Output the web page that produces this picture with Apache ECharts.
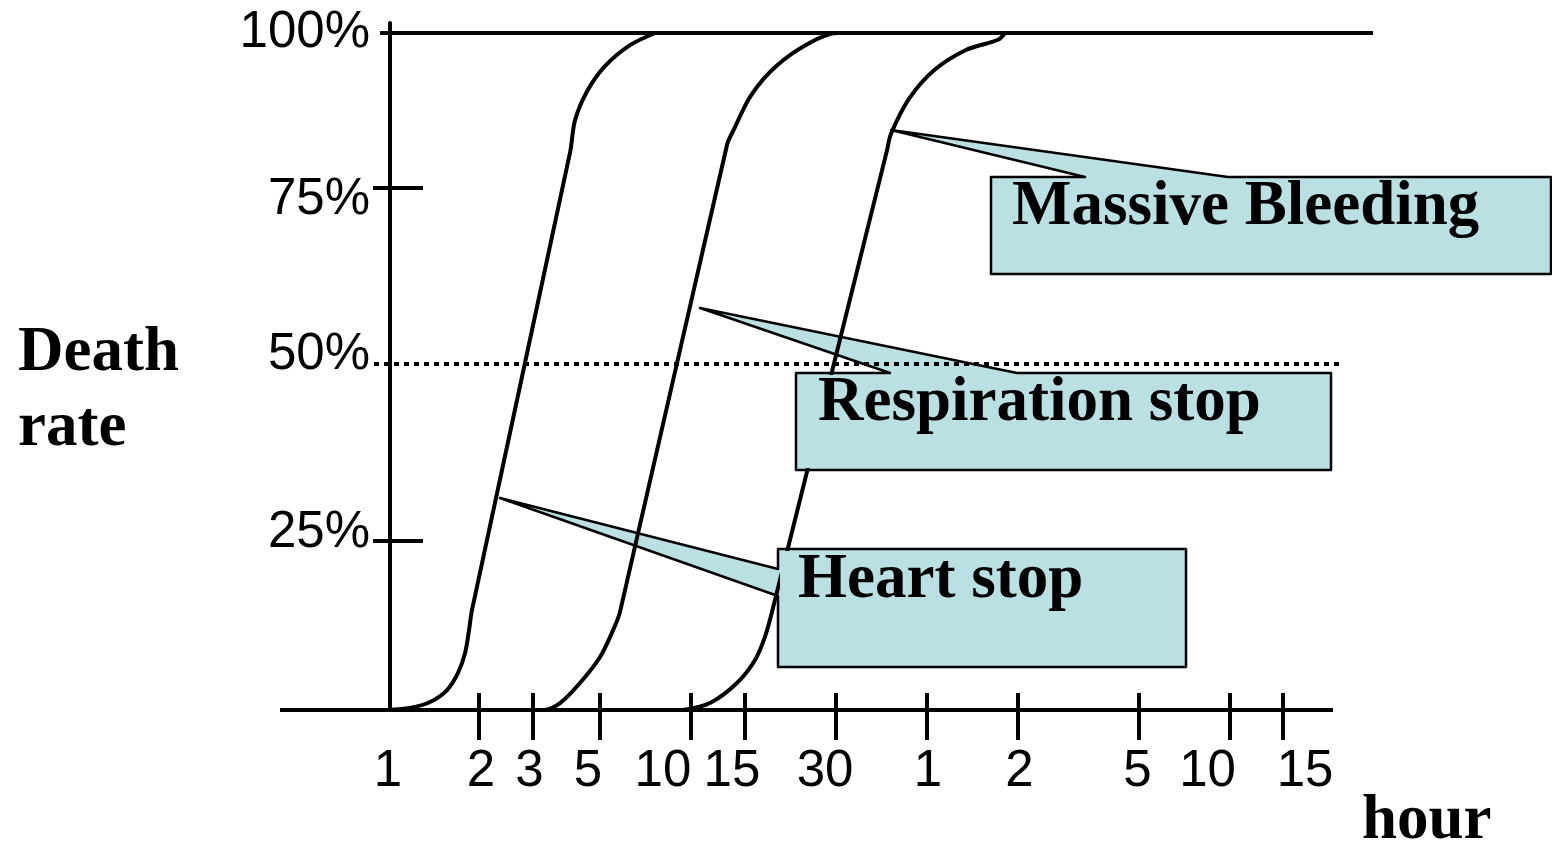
<!DOCTYPE html>
<html><head><meta charset="utf-8">
<script src="https://cdn.jsdelivr.net/npm/echarts@6/dist/echarts.min.js"></script>
<style>html,body{margin:0;padding:0;background:#fff}#c{width:1552px;height:849px}</style>
</head><body><div id="c"></div>
<script>
// ---- data (time in minutes on a log scale; death rate in %) ----
// tick marks sit on the true times; the hand-placed labels sit where the picture draws them
const xTickValues     = [2, 3, 5, 10, 15, 30, 60, 120, 300, 600, 900];
const xLabelPositions = [1, 2.027, 2.93, 4.57, 8.08, 13.65, 27.7, 60.56, 121.4, 297.6, 506.6, 1062.6];
const xLabelTexts     = ['1','2','3','5','10','15','30','1','2','5','10','15'];
const yTickValues     = [25, 77.1];
const yLabelPositions = [26.1, 52.4, 75.3, 100];
const yLabelTexts     = ['25%', '50%', '75%', '100%'];

const heartStop = [[1,0],[1.182,0.30],[1.376,1.18],[1.566,2.95],[1.702,5.47],[1.796,8.42],[1.851,11.8],[1.893,14.8],
  [3.99,82.4],[4.14,87.1],[4.54,91.4],[5.2,95.1],[6.29,98.2],[7.61,100]];
const respirationStop = [[2.876,0],[3.249,0],[3.696,1.03],[4.30,3.99],[5.01,7.83],[5.53,11.8],[5.83,14.5],
  [13.15,83.5],[13.76,85.5],[15.78,90.8],[19.08,95.1],[24.51,98.5],[30.33,100],[37.2,100]];
const massiveBleeding = [[9.41,0],[11.55,1.03],[14.18,3.99],[16.27,7.39],[17.54,10.8],[18.51,14.5],
  [44.36,82.7],[45.7,85.1],[52.44,90.3],[63.4,94.5],[80.8,97.5],[103.1,99.0],[108.7,100]];
const baseLine = [[0.44,0],[1315,0]];
const fullLine = [[0.941,100],[1781,100]];
const halfLine = [[0.899,51.1],[1387,51.1]];

// ---- chart ----
const SANS = '"Liberation Sans", Arial, sans-serif';
const SERIF = '"Liberation Serif", "Times New Roman", serif';
const BOX = '#bbe0e3';
const chart = echarts.init(document.getElementById('c'), null, {renderer:'canvas'});

function nearestText(vals, texts, v, log) {
  let best = 0, bd = Infinity;
  vals.forEach((x, i) => { const d = log ? Math.abs(Math.log(x) - Math.log(v)) : Math.abs(x - v); if (d < bd) { bd = d; best = i; } });
  return texts[best];
}
const xMin = 0.44, xMax = 1879, yMax = 101.48;
const axisCommonX = { type:'log', logBase:10, min:xMin, max:xMax, splitLine:{show:false} };
const axisCommonY = { type:'value', min:0, max:yMax, splitLine:{show:false}, position:'left', offset:-110 };
const curveStyle = { color:'#000', width:4 };

function callout(points, rect, text, tx, ty) {
  return [
    { type:'polygon', z:1, shape:{ points }, style:{ fill:BOX, stroke:'#000', lineWidth:2.5, lineJoin:'round' } },
    { type:'rect', z:100, shape:rect, style:{ fill:BOX } },
    { type:'text', z:101, x:tx, y:ty, style:{ text, font:'bold 63px ' + SERIF, fill:'#000', align:'left', verticalAlign:'middle' } }
  ];
}

chart.setOption({
  animation:false,
  backgroundColor:'#fff',
  grid:{ left:280, right:1552-1380, top:23, bottom:849-710, containLabel:false, outerBoundsMode:'none' },
  xAxis:[
    Object.assign({}, axisCommonX, {
      axisLine:{ show:false, onZero:false },
      axisTick:{ show:true, inside:false, length:30, customValues:xTickValues, lineStyle:{ color:'#000', width:4 } },
      axisLabel:{ show:true, customValues:xLabelPositions, margin:36, color:'#000', fontSize:51, fontFamily:SANS,
        showMinLabel:true, showMaxLabel:true, hideOverlap:false,
        formatter:(v) => nearestText(xLabelPositions, xLabelTexts, v, true) }
    }),
    Object.assign({}, axisCommonX, {
      position:'bottom',
      axisLine:{ show:false, onZero:false },
      axisTick:{ show:true, inside:true, length:17, customValues:xTickValues, lineStyle:{ color:'#000', width:4 } },
      axisLabel:{ show:false }
    })
  ],
  yAxis:[
    Object.assign({}, axisCommonY, {
      axisLine:{ show:true, onZero:false, lineStyle:{ color:'#000', width:4 } },
      axisTick:{ show:true, inside:true, length:33, customValues:yTickValues, lineStyle:{ color:'#000', width:4 } },
      axisLabel:{ show:true, customValues:yLabelPositions, margin:20, color:'#000', fontSize:51, fontFamily:SANS,
        showMinLabel:true, showMaxLabel:true,
        formatter:(v) => nearestText(yLabelPositions, yLabelTexts, v, false) }
    }),
    Object.assign({}, axisCommonY, {
      axisLine:{ show:false, onZero:false },
      axisTick:{ show:true, inside:false, length:17, customValues:yTickValues, lineStyle:{ color:'#000', width:4 } },
      axisLabel:{ show:false }
    })
  ],
  series:[
    { name:'baseline', type:'line', data:baseLine, showSymbol:false, clip:false, lineStyle:{ color:'#000', width:4 }, silent:true },
    { name:'100%', type:'line', data:fullLine, showSymbol:false, clip:false, lineStyle:{ color:'#000', width:4 }, silent:true },
    { name:'50%', type:'line', data:halfLine, showSymbol:false, clip:false, lineStyle:{ color:'#000', width:4, type:[5,5] }, silent:true },
    { name:'Heart stop', type:'line', data:heartStop, showSymbol:false, smooth:0.3, lineStyle:curveStyle, clip:false },
    { name:'Respiration stop', type:'line', data:respirationStop, showSymbol:false, smooth:0.3, lineStyle:curveStyle, clip:false },
    { name:'Massive Bleeding', type:'line', data:massiveBleeding, showSymbol:false, smooth:0.3, lineStyle:curveStyle, clip:false }
  ],
  graphic:[].concat(
    callout([[991,177],[1085,177],[891,130],[1228,177],[1551,177],[1551,274],[991,274]],
            {x:993,y:179,width:556,height:93}, 'Massive Bleeding', 1012, 208),
    callout([[796,373],[890,373],[700,308],[1017,373],[1331,373],[1331,470],[796,470]],
            {x:798,y:375,width:531,height:93}, 'Respiration stop', 818, 404),
    callout([[778,549],[1186,549],[1186,667],[778,667],[778,596],[500,498],[778,569]],
            {x:780,y:551,width:404,height:114}, 'Heart stop', 798, 581),
    [
      { type:'text', z:101, x:18, y:354, style:{ text:'Death', font:'bold 63px ' + SERIF, fill:'#000', align:'left', verticalAlign:'middle' } },
      { type:'text', z:101, x:18, y:429, style:{ text:'rate', font:'bold 63px ' + SERIF, fill:'#000', align:'left', verticalAlign:'middle' } },
      { type:'text', z:101, x:1362, y:822, style:{ text:'hour', font:'bold 63px ' + SERIF, fill:'#000', align:'left', verticalAlign:'middle' } }
    ]
  )
});
</script></body></html>
